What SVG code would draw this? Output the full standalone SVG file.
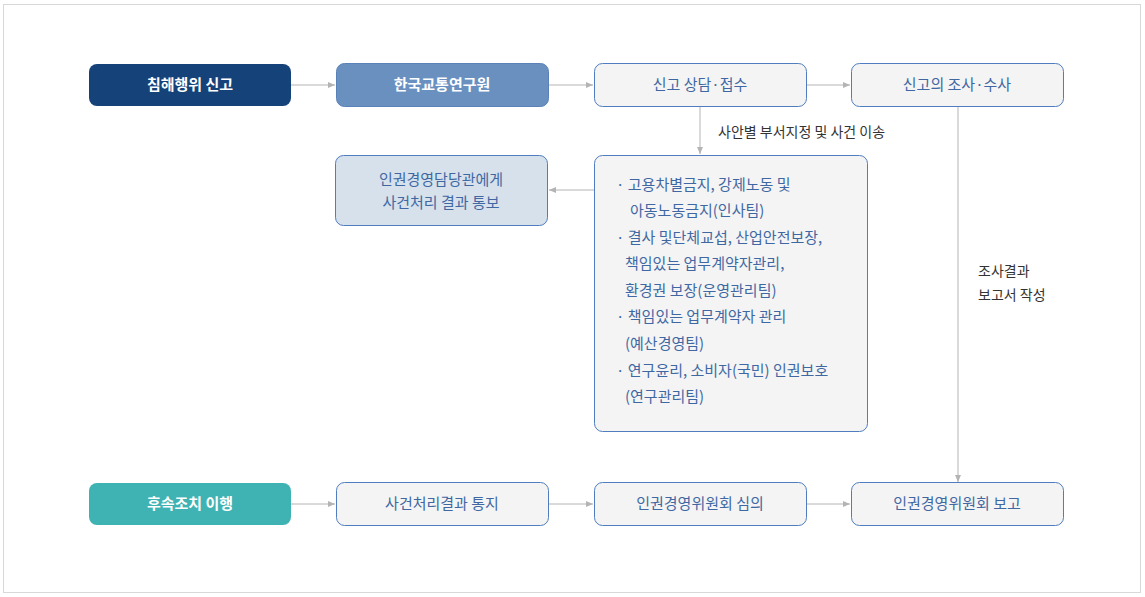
<svg xmlns="http://www.w3.org/2000/svg" width="1145" height="597" viewBox="0 0 1145 597">
<style>
text{font-family:"Noto Sans CJK KR","Noto Sans",sans-serif;font-size:15px;}
.b{fill:#f4f4f4;stroke:#4f7dbf;stroke-width:1}
.t{fill:#3f68a3;text-anchor:middle}
.w{fill:#fff;text-anchor:middle;font-weight:bold}
.c{stroke:#b4b4b4;stroke-width:1;fill:none;marker-end:url(#a)}
.l{fill:#333;font-size:14px}
.li{fill:#3f68a3}
</style>
<defs><marker id="a" markerWidth="8" markerHeight="8" refX="7" refY="4" orient="auto" markerUnits="userSpaceOnUse"><path d="M0,1L7,4L0,7z" fill="#b4b4b4"/></marker></defs>
<rect x="3.5" y="4.5" width="1137" height="588" fill="#fff" stroke="#d8d8d8"/>
<g id="connectors">
<path class="c" d="M291,85H335"/>
<path class="c" d="M548,85H593"/>
<path class="c" d="M806,85H850"/>
<path class="c" d="M700,106V154"/>
<path class="c" d="M594,190H549"/>
<path class="c" d="M958,106V482"/>
<path class="c" d="M291,504H335"/>
<path class="c" d="M548,504H593"/>
<path class="c" d="M806,504H850"/>
<text class="l" x="718" y="137">사안별 부서지정 및 사건 이송</text>
<text class="l" x="978" y="276">조사결과</text>
<text class="l" x="978" y="300">보고서 작성</text>
</g>
<g id="n1"><rect x="89" y="64" width="202" height="42" rx="8" fill="#16427a"/><text class="w" x="190" y="90">침해행위 신고</text></g>
<g id="n2"><rect x="336.5" y="63.5" width="212" height="43" rx="8" fill="#6a90c0" stroke="#5a82b8"/><text class="w" x="442" y="90">한국교통연구원</text></g>
<g id="n3"><rect class="b" x="594.5" y="63.5" width="212" height="43" rx="8"/><text class="t" x="700" y="90">신고 상담·접수</text></g>
<g id="n4"><rect class="b" x="851.5" y="63.5" width="212" height="43" rx="8"/><text class="t" x="957" y="90">신고의 조사·수사</text></g>
<g id="n5"><rect x="335.5" y="155.5" width="212" height="70" rx="8" fill="#d6e1ec" stroke="#4f7dbf"/><text class="t" x="441" y="185">인권경영담당관에게</text><text class="t" x="441" y="208">사건처리 결과 통보</text></g>
<g id="n6"><rect class="b" x="594.5" y="155.5" width="273" height="276" rx="8"/>
<text class="li" x="616" y="190">· 고용차별금지, 강제노동 및</text>
<text class="li" x="630" y="216">아동노동금지(인사팀)</text>
<text class="li" x="616" y="243">· 결사 및단체교섭, 산업안전보장,</text>
<text class="li" x="625" y="269">책임있는 업무계약자관리,</text>
<text class="li" x="625" y="296">환경권 보장(운영관리팀)</text>
<text class="li" x="616" y="322">· 책임있는 업무계약자 관리</text>
<text class="li" x="625" y="349">(예산경영팀)</text>
<text class="li" x="616" y="376">· 연구윤리, 소비자(국민) 인권보호</text>
<text class="li" x="625" y="402">(연구관리팀)</text>
<text class="li" x="616" y="400" visibility="hidden"></text>
<text class="li" x="616" y="401" display="none"></text>
</g>
<g id="n7"><rect x="89" y="483" width="202" height="42" rx="8" fill="#3fb3b3"/><text class="w" x="190" y="509">후속조치 이행</text></g>
<g id="n8"><rect class="b" x="336.5" y="482.5" width="212" height="43" rx="8"/><text class="t" x="442" y="509">사건처리결과 통지</text></g>
<g id="n9"><rect class="b" x="594.5" y="482.5" width="212" height="43" rx="8"/><text class="t" x="700" y="509">인권경영위원회 심의</text></g>
<g id="n10"><rect class="b" x="851.5" y="482.5" width="212" height="43" rx="8"/><text class="t" x="957" y="509">인권경영위원회 보고</text></g>
</svg>
